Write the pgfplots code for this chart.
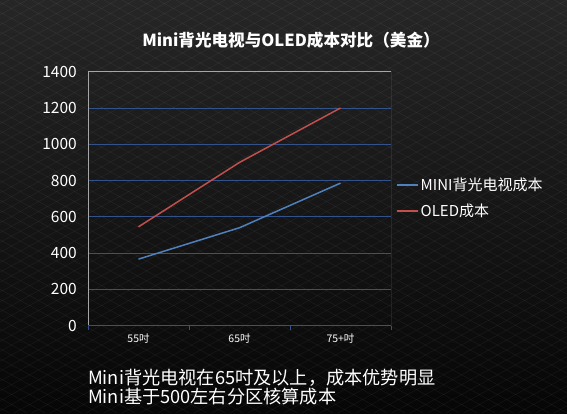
\documentclass[border=0pt]{standalone}
\usepackage{fontspec}
\setmainfont{Noto Sans CJK SC}
\usepackage{pgfplots}
\pgfplotsset{compat=1.18}

\definecolor{bgtop}{HTML}{262626}
\definecolor{bgbot}{HTML}{060606}
\definecolor{gridblue}{HTML}{34528A}
\definecolor{framegray}{HTML}{A6A6A6}
\definecolor{miniblue}{HTML}{4F81BD}
\definecolor{oledred}{HTML}{C0504D}

\begin{document}
\begin{tikzpicture}[x=1pt,y=1pt]
	% background
	\shade[top color=bgtop,bottom color=bgbot] (0,0) rectangle (567,413);
	\useasboundingbox (0,0) rectangle (567,413);
	\begin{scope}
		\clip (0,0) rectangle (567,413);
		\foreach \k in {-760,-742,...,580} {
			\draw[white,opacity=0.05,line width=0.6pt] (\k,0) -- ++(751,413);
			\draw[white,opacity=0.05,line width=0.6pt] (\k,413) -- ++(751,-413);
		}
	\end{scope}

	\node[white,font=\bfseries\fontsize{16.6}{19}\selectfont] at (291,373)
		{Mini背光电视与OLED成本对比（美金）};

	\begin{axis}[
		at={(88pt,87.3pt)}, anchor=south west,
		scale only axis, width=303pt, height=254pt,
		xmin=-0.5, xmax=2.5,
		ymin=0, ymax=1400,
		xtick={0,1,2},
		xticklabels={55吋,65吋,75+吋},
		minor xtick={-0.5,0.5,1.5,2.5},
		ytick={0,200,...,1400},
		xtick pos=lower, ytick pos=left,
		major tick length=0pt, minor tick length=4pt,
		tick align=outside,
		every minor tick/.style={gridblue,line width=0.8pt},
		axis line style={draw=none},
		ymajorgrids,
		grid style={gridblue,line width=0.8pt},
		/pgf/number format/assume math mode=true,
		/pgf/number format/1000 sep=,
		yticklabel style={white,inner sep=0pt,xshift=-11pt,font=\fontsize{15.5}{18}\selectfont},
		xticklabel style={white,inner sep=0pt,yshift=-8pt,font=\fontsize{10.5}{12}\selectfont},
		legend style={draw=none,fill=none,text=white,
			font=\fontsize{15}{18}\selectfont,
			at={(1.0165,0.591)},anchor=north west,
			inner sep=0pt,row sep=8pt,
			nodes={inner sep=2pt}},
		legend cell align=left,
		legend image code/.code={\draw[#1,line width=1.5pt] (0pt,0pt) -- (21pt,0pt);},
	]
		\addplot[miniblue,line width=1.5pt] coordinates {(0,367) (1,540) (2,786)};
		\addlegendentry{MINI背光电视成本}
		\addplot[oledred,line width=1.5pt] coordinates {(0,545) (1,900) (2,1200)};
		\addlegendentry{OLED成本}
		\draw[framegray,line width=0.8pt] (rel axis cs:0,0) -- (rel axis cs:0,1)
			-- (rel axis cs:1,1) -- (rel axis cs:1,0);
		\draw[gridblue,line width=0.8pt] (rel axis cs:0,0) -- (rel axis cs:1,0);
	\end{axis}

	\node[anchor=base west,white,inner sep=0pt,font=\fontsize{18.2}{20}\selectfont] at (88,29)
		{Mini背光电视在65吋及以上，成本优势明显};
	\node[anchor=base west,white,inner sep=0pt,font=\fontsize{18.2}{20}\selectfont] at (88,10)
		{Mini基于500左右分区核算成本};
\end{tikzpicture}
\end{document}
